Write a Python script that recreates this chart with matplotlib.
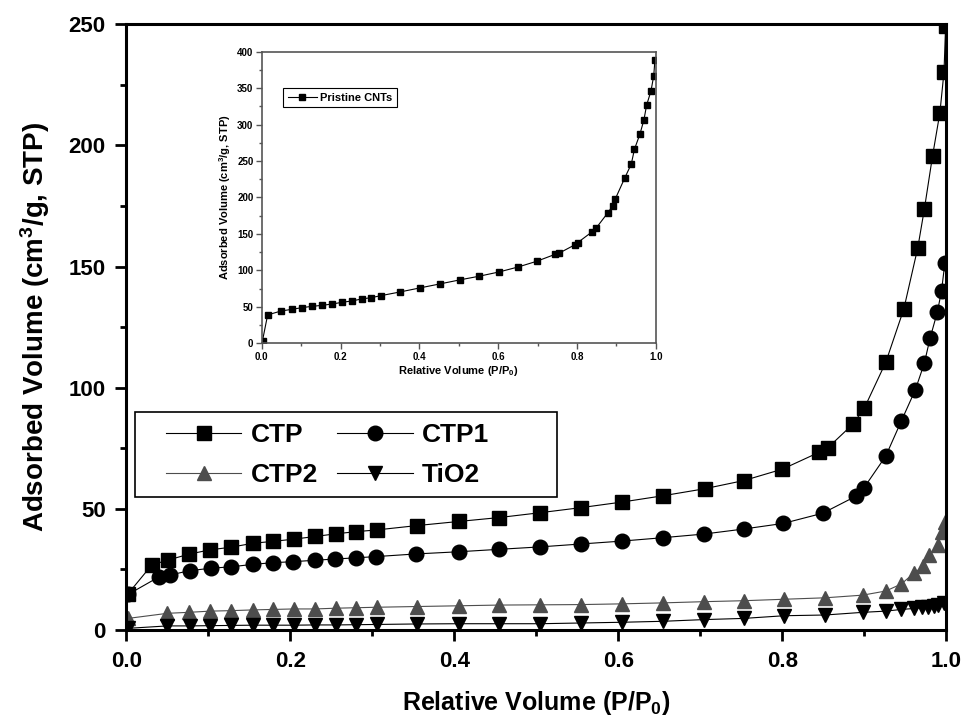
import numpy as np
import matplotlib
matplotlib.use("Agg")
import matplotlib.pyplot as plt
from matplotlib.patches import Rectangle
from matplotlib.ticker import MultipleLocator

plt.rcParams['font.family'] = ['Liberation Sans', 'DejaVu Sans']
plt.rcParams['font.weight'] = 'bold'
plt.rcParams['mathtext.fontset'] = 'custom'
plt.rcParams['mathtext.rm'] = 'Liberation Sans:bold'
plt.rcParams['mathtext.bf'] = 'Liberation Sans:bold'
plt.rcParams['mathtext.default'] = 'rm'

# N2 adsorption isotherms
p_ctp = [0.002, 0.031, 0.051, 0.076, 0.102, 0.128, 0.154, 0.179, 0.204, 0.230,
         0.255, 0.280, 0.305, 0.354, 0.405, 0.454, 0.504, 0.554, 0.604, 0.654,
         0.705, 0.753, 0.800, 0.845, 0.855, 0.886, 0.900, 0.926, 0.948, 0.965,
         0.973, 0.983, 0.992, 0.997, 0.999]
v_ctp = [15.0, 26.9, 28.9, 31.3, 33.1, 34.2, 35.8, 36.6, 37.5, 38.6,
         39.7, 40.6, 41.3, 43.1, 44.8, 46.4, 48.4, 50.5, 52.8, 55.4,
         58.3, 61.7, 66.4, 73.4, 75.1, 85.0, 91.7, 110.5, 132.5, 157.7,
         173.6, 195.6, 213.5, 230.3, 249.3]

p_ctp1 = [0.002, 0.040, 0.053, 0.077, 0.103, 0.128, 0.154, 0.179, 0.203, 0.230,
          0.254, 0.280, 0.304, 0.353, 0.405, 0.454, 0.504, 0.554, 0.604, 0.654,
          0.704, 0.753, 0.801, 0.849, 0.890, 0.899, 0.926, 0.945, 0.962, 0.973,
          0.980, 0.989, 0.994, 0.998]
v_ctp1 = [14.7, 22.0, 22.7, 24.5, 25.5, 26.1, 27.1, 27.8, 28.2, 28.8,
          29.3, 29.8, 30.3, 31.4, 32.3, 33.3, 34.3, 35.5, 36.7, 38.1,
          39.6, 41.7, 44.0, 48.2, 55.3, 58.5, 71.8, 86.3, 99.1, 110.1,
          120.4, 131.4, 140.0, 151.3]

p_ctp2 = [0.002, 0.050, 0.076, 0.102, 0.128, 0.154, 0.179, 0.204, 0.230, 0.255,
          0.280, 0.305, 0.354, 0.405, 0.454, 0.504, 0.554, 0.604, 0.654, 0.704,
          0.753, 0.802, 0.852, 0.898, 0.926, 0.945, 0.960, 0.972, 0.979, 0.990,
          0.994, 0.998]
v_ctp2 = [4.8, 6.9, 7.3, 7.8, 8.0, 8.3, 8.5, 8.7, 8.7, 9.0,
          9.2, 9.4, 9.7, 10.0, 10.3, 10.4, 10.5, 10.8, 11.2, 11.7,
          12.1, 12.7, 13.3, 14.4, 16.1, 19.0, 23.4, 26.4, 31.0, 35.1,
          40.3, 44.7]

p_tio2 = [0.002, 0.050, 0.077, 0.102, 0.128, 0.154, 0.179, 0.204, 0.230, 0.255,
          0.280, 0.305, 0.354, 0.405, 0.454, 0.504, 0.554, 0.604, 0.654, 0.704,
          0.753, 0.802, 0.852, 0.898, 0.926, 0.945, 0.961, 0.970, 0.978, 0.985,
          0.990, 0.997]
v_tio2 = [0.7, 1.7, 1.7, 1.8, 1.9, 2.0, 2.0, 2.0, 2.1, 2.1,
          2.2, 2.3, 2.5, 2.6, 2.6, 2.6, 2.9, 3.2, 3.6, 4.3,
          4.8, 5.9, 6.2, 7.3, 7.8, 8.5, 8.9, 9.3, 9.6, 10.0,
          10.3, 11.0]

p_cnt = [0.002, 0.015, 0.049, 0.077, 0.102, 0.128, 0.154, 0.179, 0.204, 0.229,
         0.254, 0.278, 0.303, 0.351, 0.401, 0.452, 0.502, 0.551, 0.602, 0.651,
         0.698, 0.745, 0.754, 0.794, 0.802, 0.838, 0.849, 0.878, 0.891, 0.897,
         0.921, 0.938, 0.946, 0.960, 0.970, 0.977, 0.988, 0.995, 0.998]
v_cnt = [3.7, 38.9, 44.3, 46.6, 48.9, 50.7, 52.1, 53.9, 56.2, 58.1,
         60.8, 62.6, 65.4, 70.4, 75.9, 81.4, 86.9, 91.9, 97.8, 104.7,
         112.5, 122.1, 123.4, 134.9, 138.1, 152.7, 158.2, 178.7, 188.8, 197.5,
         226.3, 245.9, 266.1, 287.1, 306.3, 326.9, 346.1, 367.1, 388.6]

W, H = 964, 725
fig = plt.figure(figsize=(W / 100, H / 100), dpi=100)
ax = fig.add_axes([0.1312, 0.1310, 0.8506, 0.8355])

l1, = ax.plot(p_ctp, v_ctp, 's-', color='black', ms=9.5, lw=0.8, label='CTP')
l2, = ax.plot(p_ctp1, v_ctp1, 'o-', color='black', ms=10.5, lw=0.8, label='CTP1')
l3, = ax.plot(p_ctp2, v_ctp2, '^-', color='#4d4d4d', ms=10.5, lw=0.8, label='CTP2')
l4, = ax.plot(p_tio2, v_tio2, 'v-', color='black', ms=10.5, lw=0.8, label='TiO2')

ax.set_xlim(0, 1.0)
ax.set_ylim(0, 250)
ax.xaxis.set_major_locator(MultipleLocator(0.2))
ax.xaxis.set_minor_locator(MultipleLocator(0.1))
ax.yaxis.set_major_locator(MultipleLocator(50))
ax.yaxis.set_minor_locator(MultipleLocator(25))
ax.xaxis.set_major_formatter(plt.FormatStrFormatter('%.1f'))
ax.tick_params(which='major', direction='out', length=8, width=2, labelsize=16, pad=7)
ax.tick_params(which='minor', direction='out', length=4.5, width=2)
for s in ax.spines.values():
    s.set_linewidth(2.2)
ax.set_xlabel('Relative Volume (P/P$_0$)', fontsize=18, fontweight='bold', labelpad=12)
ax.set_ylabel('Adsorbed Volume (cm$^3$/g, STP)', fontsize=20, fontweight='bold', labelpad=12)

# legend box drawn separately so it can be wider than its entries
box = Rectangle((135 / W, 1 - 497 / H), 422 / W, 85 / H, transform=fig.transFigure,
                facecolor='white', edgecolor='black', lw=1.2, zorder=4, clip_on=False)
ax.add_patch(box)
leg = ax.legend([l1, l3, l2, l4], ['CTP', 'CTP2', 'CTP1', 'TiO2'], ncol=2,
                loc='upper left', bbox_to_anchor=(166 / W, 1 - 423 / H),
                bbox_transform=fig.transFigure, borderaxespad=0, borderpad=0,
                frameon=False, prop={'size': 19, 'weight': 'bold'},
                handlelength=2.85, columnspacing=0.75, handletextpad=0.35,
                labelspacing=0.6)
leg.set_zorder(5)

# pristine CNT isotherm
ins = fig.add_axes([0.2715, 0.5265, 0.4087, 0.4022])
ins.plot(p_cnt, v_cnt, 's-', color='black', ms=4.5, lw=0.8, label='Pristine CNTs')
ins.set_xlim(0, 1.0)
ins.set_ylim(0, 400)
ins.xaxis.set_major_locator(MultipleLocator(0.2))
ins.xaxis.set_minor_locator(MultipleLocator(0.1))
ins.yaxis.set_major_locator(MultipleLocator(50))
ins.yaxis.set_minor_locator(MultipleLocator(25))
ins.xaxis.set_major_formatter(plt.FormatStrFormatter('%.1f'))
ins.tick_params(which='major', direction='out', length=4, width=1, labelsize=7, pad=2,
                color='#555555')
ins.tick_params(which='minor', direction='out', length=2.5, width=1, color='#555555')
for s in ins.spines.values():
    s.set_linewidth(1.2)
    s.set_color('#555555')
ins.set_xlabel('Relative Volume (P/P$_0$)', fontsize=8, fontweight='bold', labelpad=2)
ins.set_ylabel('Adsorbed Volume (cm$^3$/g, STP)', fontsize=8, fontweight='bold', labelpad=3)
ileg = ins.legend(loc='upper left', bbox_to_anchor=(0.055, 0.875), borderaxespad=0,
                  fancybox=False, edgecolor='black', framealpha=1,
                  prop={'size': 8, 'weight': 'bold'}, handlelength=2.6,
                  handletextpad=0.3, borderpad=0.4)
ileg.get_frame().set_linewidth(0.8)

fig.savefig('out.png', dpi=100)
